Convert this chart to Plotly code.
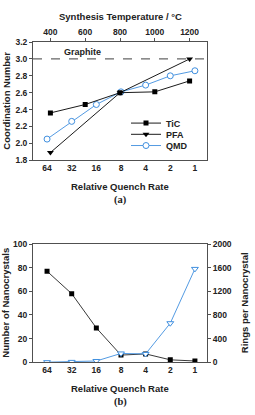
import plotly.graph_objects as go

# ---------------- data ----------------
quench_labels = ["64", "32", "16", "8", "4", "2", "1"]
quench_pos = [0, 1, 2, 3, 4, 5, 6]

tic_temp = [400, 600, 800, 1000, 1200]
tic_cn = [2.36, 2.46, 2.60, 2.61, 2.74]

pfa_temp = [400, 800, 1200]
pfa_cn = [1.89, 2.60, 3.00]

qmd_cn = [2.05, 2.26, 2.46, 2.61, 2.69, 2.80, 2.86]

graphite_cn = 3.0

n_nanocrystals = [77, 58, 29, 6, 7, 2, 1]
rings_per_nc = [0, 5, 20, 148, 140, 660, 1580]

temp_ticks = [400, 600, 800, 1000, 1200]

# ---------------- style ----------------
W, H = 255, 415
BLUE = "#3f8fdf"
AX = "#505050"
SANS = "Liberation Sans, Arial, sans-serif"
SERIF = "Liberation Serif, Times New Roman, serif"
tickfont = dict(family=SANS, size=8.5, color="#222", weight="bold")
labfont = dict(family=SANS, size=9.5, color="#222", weight="bold")
legfont = dict(family=SANS, size=9, color="#222", weight="bold")

def px_x(x):
    return x / W

def px_y(y):
    return 1 - y / H

xr = [-0.57, 6.49]

fig = go.Figure()

fig.add_trace(go.Scatter(
    x=tic_temp, y=tic_cn, xaxis="x2", yaxis="y", name="TiC", legend="legend",
    mode="lines+markers", line=dict(color="black", width=0.9),
    marker=dict(symbol="square", size=5, color="black")))
fig.add_trace(go.Scatter(
    x=pfa_temp, y=pfa_cn, xaxis="x2", yaxis="y", name="PFA", legend="legend2",
    mode="lines+markers", line=dict(color="black", width=0.9),
    marker=dict(symbol="triangle-down", size=6, color="black")))
fig.add_trace(go.Scatter(
    x=quench_pos, y=qmd_cn, xaxis="x", yaxis="y", name="QMD", legend="legend3",
    mode="lines+markers", line=dict(color=BLUE, width=0.9),
    marker=dict(symbol="circle", size=6, color="white",
                line=dict(color=BLUE, width=1))))

fig.add_trace(go.Scatter(
    x=quench_pos, y=n_nanocrystals, xaxis="x3", yaxis="y3",
    mode="lines+markers", showlegend=False,
    line=dict(color="#222", width=0.9),
    marker=dict(symbol="square", size=5, color="black")))
fig.add_trace(go.Scatter(
    x=quench_pos, y=rings_per_nc, xaxis="x3", yaxis="y4",
    mode="lines+markers", showlegend=False,
    line=dict(color=BLUE, width=0.9),
    marker=dict(symbol="triangle-down", size=6, color="white",
                line=dict(color=BLUE, width=1))))

fig.add_shape(type="line", xref="x domain", yref="y", x0=0, x1=1,
              y0=graphite_cn, y1=graphite_cn,
              line=dict(color="#666", width=1.2, dash="dash"))

dom_x = [px_x(33), px_x(207)]
axcommon = dict(showgrid=False, zeroline=False, linecolor=AX, linewidth=1,
                tickfont=tickfont, ticklen=3, tickcolor=AX)

def leg(ypx):
    return dict(x=px_x(126), y=px_y(ypx), xanchor="left", yanchor="middle",
                font=legfont, bgcolor="rgba(0,0,0,0)", itemwidth=30)

fig.update_layout(
    width=W, height=H, margin=dict(l=0, r=0, t=0, b=0),
    paper_bgcolor="white", plot_bgcolor="white",
    xaxis=dict(domain=dom_x, anchor="y", range=xr, tickvals=quench_pos,
               ticktext=quench_labels, showline=True, ticks="", mirror=False,
               **axcommon),
    xaxis2=dict(overlaying="x", side="top", anchor="y", range=[300, 1300],
                tickvals=temp_ticks, showline=True, ticks="outside",
                **axcommon),
    yaxis=dict(domain=[px_y(159), px_y(38)], anchor="x", range=[1.8, 3.2],
               dtick=0.2, tickformat=".1f", showline=True, ticks="outside",
               mirror=True, **axcommon),
    xaxis3=dict(domain=dom_x, anchor="y3", range=xr, tickvals=quench_pos,
                ticktext=quench_labels, showline=True, ticks="", mirror=True,
                **axcommon),
    yaxis3=dict(domain=[px_y(366), px_y(245)], anchor="x3", range=[0, 100],
                dtick=20, showline=True, ticks="outside", **axcommon),
    yaxis4=dict(overlaying="y3", side="right", anchor="x3", range=[0, 2000],
                dtick=400, showline=True, ticks="outside", **axcommon),
    legend=leg(121),
    legend2=leg(132.5),
    legend3=leg(144),
    showlegend=True,
)

ann = [
    ("Synthesis Temperature / °C", 120, 12, 0, labfont),
    ("Graphite", 82, 48, 0, dict(family=SANS, size=9, color="#222", weight="bold")),
    ("Relative Quench Rate", 120, 186, 0, labfont),
    ("(a)", 120, 200, 0, dict(family=SERIF, size=10.5, color="#222", weight="bold")),
    ("Coordination Number", 7, 98, -90, labfont),
    ("Relative Quench Rate", 120, 392.5, 0, labfont),
    ("(b)", 120, 407, 0, dict(family=SERIF, size=10.5, color="#222", weight="bold")),
    ("Number of Nanocrystals", 5.5, 305.5, -90, labfont),
    ("Rings per Nanocrystal", 244, 305.5, -90, labfont),
]
for text, x, y, ang, f in ann:
    fig.add_annotation(text=text, xref="paper", yref="paper", x=px_x(x), y=px_y(y),
                       xanchor="center", yanchor="middle", showarrow=False,
                       textangle=ang, font=f)

fig.write_html("out.html")
